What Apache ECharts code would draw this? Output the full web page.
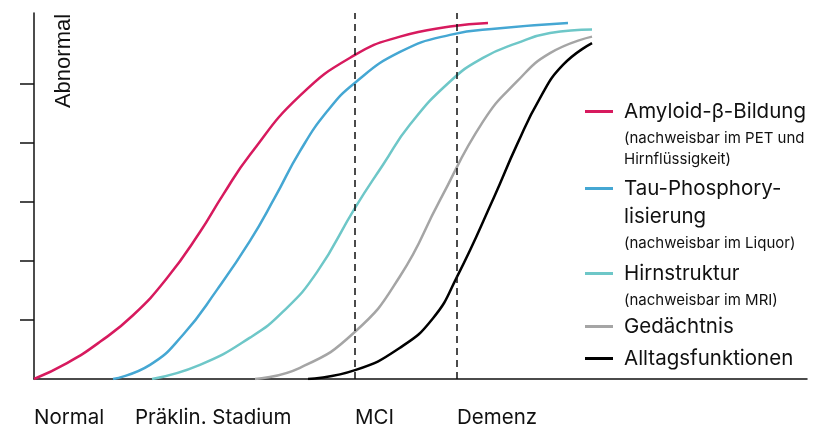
<!DOCTYPE html>
<html><head><meta charset="utf-8">
<script src="https://cdn.jsdelivr.net/npm/echarts@6/dist/echarts.min.js"></script>
<style>html,body{margin:0;padding:0;background:#fff}#c{width:823px;height:428px}</style>
</head><body><div id="c"></div>
<script>
// x: 0..100 progression units, y: 0..6.2 abnormality units
const stageNames = ['Normal', 'Präklin. Stadium', 'MCI', 'Demenz'];
const stagePos = [0, 13.07, 41.53, 54.72];
const stageLines = [41.53, 54.72];
const yTicks = [1, 2, 3, 4, 5];

const amyloid = [[0,0],[4.27,0.27],[8.54,0.63],[12.81,1.08],[17.21,1.71],[21.47,2.49],[24.45,3.12],[27.94,3.80],[34.41,4.80],[41.53,5.49],[47.35,5.80],[53.82,5.97],[58.73,6.03]];
const tau = [[10.22,0],[15.01,0.24],[19.28,0.75],[23.67,1.51],[27.94,2.34],[31.18,3.08],[34.41,3.86],[37.90,4.53],[41.53,5.02],[47.35,5.54],[53.82,5.83],[60.28,5.94],[69.08,6.03]];
const hirn = [[15.27,0],[21.47,0.24],[27.94,0.70],[32.21,1.14],[36.61,1.81],[41.53,2.90],[45.15,3.63],[48.64,4.31],[53.82,5.04],[58.08,5.44],[62.48,5.69],[66.75,5.86],[72.19,5.92]];
const gedaechtnis = [[28.59,0],[34.41,0.19],[41.53,0.80],[47.35,1.74],[52.52,3.03],[58.08,4.36],[62.48,5.04],[66.75,5.52],[72.19,5.80]];
const alltag = [[35.45,0],[41.53,0.15],[47.35,0.53],[51.62,1.03],[54.72,1.73],[59.51,3.08],[62.48,3.97],[65.46,4.76],[68.43,5.32],[72.19,5.69]];

const seriesNames = ['Amyloid-β-Bildung', 'Tau-Phosphorylisierung', 'Hirnstruktur', 'Gedächtnis', 'Alltagsfunktionen'];
const seriesData = [amyloid, tau, hirn, gedaechtnis, alltag];
const seriesColors = ['#d71a5e', '#45a7d3', '#6ec7c8', '#a5a5a5', '#000000'];
const legendMain = [['Amyloid-β-Bildung'], ['Tau-Phosphory-', 'lisierung'], ['Hirnstruktur'], ['Gedächtnis'], ['Alltagsfunktionen']];
const legendSub = [['(nachweisbar im PET und', 'Hirnflüssigkeit)'], ['(nachweisbar im Liquor)'], ['(nachweisbar im MRI)'], [], []];
const legendIconY = [110, 187, 272, 325, 357];

const FONT = 'Inter';
const LH_T = 28, LH_S = 26, LH_S2 = 16;

const legends = seriesNames.map((name, i) => {
  const mains = legendMain[i], subs = legendSub[i];
  const parts = [];
  let C = 0;
  mains.forEach(t => { parts.push('{t|' + t + '}'); C += LH_T; });
  subs.forEach((t, j) => { parts.push((j === 0 ? '{s|' : '{s2|') + t + '}'); C += (j === 0 ? LH_S : LH_S2); });
  const text = parts.join('\n');
  return {
    data: [name],
    orient: 'vertical',
    left: 585,
    top: legendIconY[i] - 9,
    padding: 0,
    itemWidth: 28,
    itemHeight: 3,
    icon: 'rect',
    selectedMode: false,
    formatter: () => text,
    textStyle: {
      padding: [C - LH_T, 0, 0, 6],
      rich: {
        t: { fontFamily: FONT, fontSize: 20.5, lineHeight: LH_T, color: '#111' },
        s: { fontFamily: FONT, fontSize: 15, lineHeight: LH_S, color: '#111' },
        s2: { fontFamily: FONT, fontSize: 15, lineHeight: LH_S2, color: '#111' }
      }
    }
  };
});

const series = seriesNames.map((name, i) => ({
  name, type: 'line', data: seriesData[i], smooth: 0.5, symbol: 'none',
  lineStyle: { width: 2.5, color: seriesColors[i] },
  itemStyle: { color: seriesColors[i] }, silent: true
}));
series.push({
  name: 'stages', type: 'line', data: [], silent: true,
  markLine: {
    silent: true, symbol: 'none', label: { show: false },
    lineStyle: { color: '#111', type: [7, 5], width: 1.5 },
    data: stageLines.map(v => ({ xAxis: v }))
  }
});

const chart = echarts.init(document.getElementById('c'));
chart.setOption({
  animation: false,
  grid: { left: 34, right: 16, top: 13, bottom: 49 },
  legend: legends,
  xAxis: {
    type: 'value', min: 0, max: 100,
    axisLine: { show: true, lineStyle: { color: '#111', width: 1.5 } },
    axisTick: { show: false },
    splitLine: { show: false },
    axisLabel: {
      customValues: stagePos,
      formatter: v => stageNames[stagePos.indexOf(v)],
      align: 'left', margin: 28, fontSize: 20.5, fontFamily: FONT, color: '#111'
    }
  },
  yAxis: {
    type: 'value', min: 0, max: 6.2,
    axisLine: { show: true, lineStyle: { color: '#111', width: 1.5 } },
    axisTick: { show: true, length: 14, customValues: yTicks, lineStyle: { color: '#111', width: 1.5 } },
    axisLabel: { show: false },
    splitLine: { show: false }
  },
  graphic: [{
    type: 'text', x: 63.5, y: 61, rotation: Math.PI / 2,
    style: { text: 'Abnormal', fontFamily: 'Liberation Sans', fontSize: 22, fill: '#111', align: 'center', verticalAlign: 'middle' }
  }],
  series
});
</script></body></html>
